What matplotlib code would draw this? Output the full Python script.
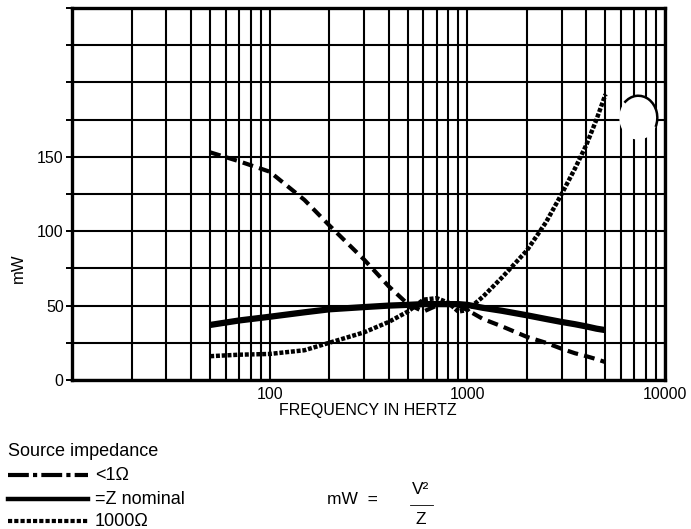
import numpy as np
import matplotlib
matplotlib.use("Agg")
import matplotlib.pyplot as plt
from matplotlib.lines import Line2D
from matplotlib.patches import Ellipse, Arc

plt.rcParams['font.family'] = ['Liberation Sans', 'DejaVu Sans']

# ---- data ----
freq = [50, 70, 100, 150, 200, 300, 400, 500, 600, 700, 800, 900, 1000,
        1200, 1500, 2000, 2500, 3000, 3500, 4000, 4500, 5000]
low_z = [153, 147, 140, 121, 104, 81, 63, 51, 46, 50, 52, 50, 47,
         41, 36, 29, 25, 21, 18, 16, 14, 12]            # <1 ohm
nominal_z = [37, 40, 42.5, 45.5, 47.5, 49, 50, 50.5, 51, 51, 51, 51, 50.5,
             48.5, 46.5, 43.5, 41, 39, 37.5, 36, 34.5, 33.5]  # =Z nominal
high_z = [16, 17, 17.5, 20, 25, 32, 39, 46, 54, 55, 52, 46, 47,
          56, 69, 87, 106, 125, 142, 158, 175, 192]        # 1000 ohm

y_ticks = [0, 50, 100, 150]
x_ticks = [100, 1000, 10000]
x_tick_labels = ["100", "1000", "10000"]
legend_labels = ["<1\u03a9", "=Z nominal", "1000\u03a9"]

W, H = 691, 529
fig = plt.figure(figsize=(W / 100, H / 100), dpi=100)
ax = fig.add_axes([72 / W, 1 - 380 / H, (665 - 72) / W, (380 - 8) / H])
ax.set_xscale('log')
ax.set_xlim(10, 10000)
ax.set_ylim(0, 250)

# grid
ax.set_yticks(np.arange(0, 251, 25))
ax.set_yticklabels([str(v) if v in y_ticks else "" for v in np.arange(0, 251, 25)])
ax.set_xticks([10] + x_ticks)
ax.set_xticklabels([""] + x_tick_labels)
ax.grid(True, which='both', color='black', linewidth=1.5)
ax.tick_params(axis='x', which='both', length=0, labelsize=11.5, pad=5)
ax.tick_params(axis='y', which='major', length=4, width=1.4, labelsize=11.5, pad=2)
for s in ax.spines.values():
    s.set_linewidth(2.4)
    s.set_color('black')
ax.set_axisbelow(True)

# curves
l1, = ax.plot(freq, low_z, color='black', lw=3.0, dashes=(2.6, 1.5), zorder=3)
l2, = ax.plot(freq, nominal_z, color='black', lw=4.5, solid_capstyle='butt', zorder=3)
l3, = ax.plot(freq, high_z, color='black', lw=3.2, dashes=(0.9, 0.4), zorder=3)

# punched hole in the scan
hole = Ellipse((0.955, 0.705), 38 / 593, 44 / 372, transform=ax.transAxes,
               facecolor='white', edgecolor='none', zorder=5, clip_on=False)
ax.add_patch(hole)
arc = Arc((0.955, 0.705), 38 / 593, 44 / 372, transform=ax.transAxes,
          theta1=-40, theta2=120, color='black', lw=1.8, zorder=6)
ax.add_patch(arc)

# labels
fig.text(368 / W, 1 - 410 / H, "FREQUENCY IN HERTZ", ha='center', va='center', fontsize=11.5)
fig.text(18 / W, 1 - 268 / H, "mW", rotation=90, ha='center', va='center', fontsize=12)

# legend (manual)
fig.text(8 / W, 1 - 451 / H, "Source impedance", ha='left', va='center', fontsize=13)
ys = [475, 499, 521]
styles = [dict(lw=3.0, dashes=(5, 1, 1, 1)), dict(lw=3.2), dict(lw=3.0, dashes=(1, 0.5))]
for yy, st, lab in zip(ys, styles, legend_labels):
    fig.add_artist(Line2D([8 / W, 88 / W], [1 - yy / H, 1 - yy / H], color='black',
                          transform=fig.transFigure, **st))
    fig.text(95 / W, 1 - yy / H, lab, ha='left', va='center', fontsize=13)

# formula
fig.text(352 / W, 1 - 499 / H, "mW  =", ha='center', va='center', fontsize=12.5)
fig.text(421 / W, 1 - 490 / H, "V\u00b2", ha='center', va='center', fontsize=12.5)
fig.add_artist(Line2D([410 / W, 433 / W], [1 - 505 / H, 1 - 505 / H], color='black',
                      lw=0.6, transform=fig.transFigure))
fig.text(421 / W, 1 - 520 / H, "Z", ha='center', va='center', fontsize=12.5)

fig.savefig("out.png", dpi=100)
